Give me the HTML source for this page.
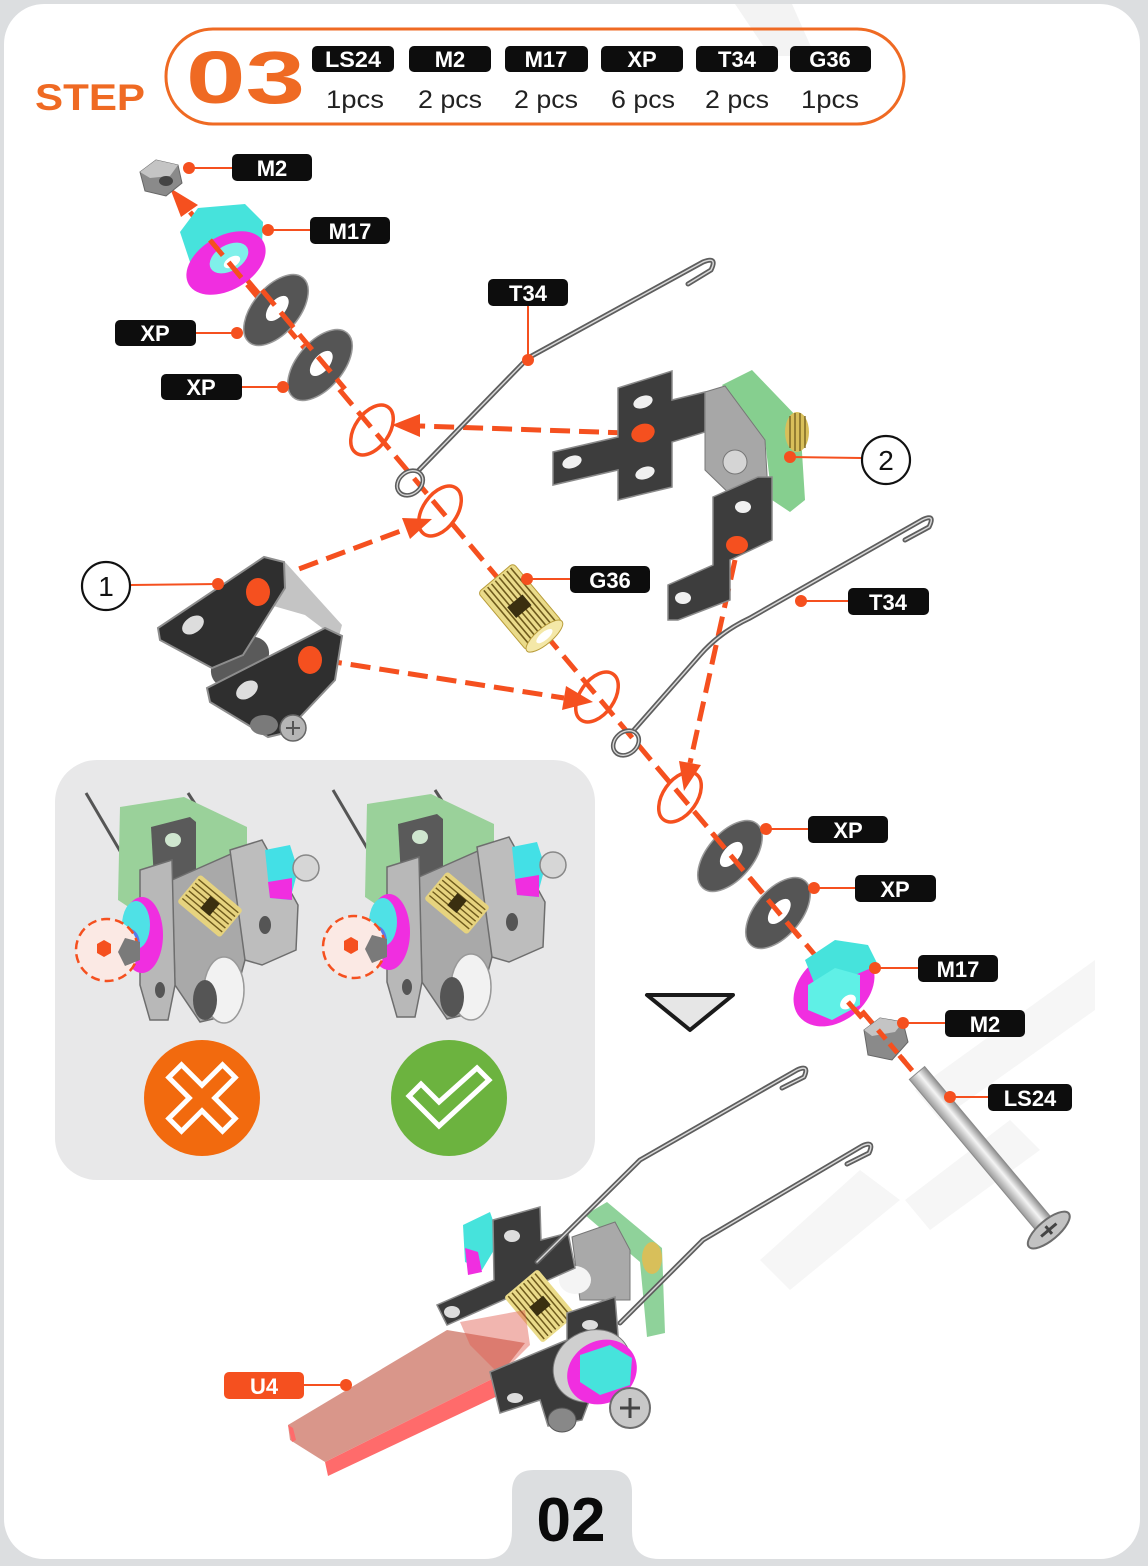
<!DOCTYPE html>
<html><head><meta charset="utf-8">
<style>
html,body{margin:0;padding:0;background:#dcdee0;}
svg{display:block;}
text{font-family:"Liberation Sans",Arial,sans-serif;}
</style></head>
<body>
<svg width="1148" height="1566" viewBox="0 0 1148 1566" xmlns="http://www.w3.org/2000/svg">
<defs>
<linearGradient id="steel" x1="0" y1="0" x2="0" y2="1">
<stop offset="0" stop-color="#8d8d8d"/><stop offset="0.45" stop-color="#f4f4f4"/><stop offset="1" stop-color="#9a9a9a"/>
</linearGradient>
<g id="washer">
<ellipse cx="0" cy="0" rx="42" ry="23" fill="#555" stroke="#9a9a9a" stroke-width="1.5"/>
<ellipse cx="2" cy="0" rx="15" ry="8" fill="#fff"/>
</g>
</defs>

<!-- background / card -->
<rect x="0" y="0" width="1148" height="1566" fill="#dcdee0"/>
<rect x="4" y="4" width="1136" height="1555" rx="40" fill="#ffffff"/>
<polygon points="735,4 792,4 815,56 770,56" fill="#f3f3f3"/>
<g fill="#f6f6f6">
<polygon points="1095,960 1095,1010 940,1120 915,1090"/>
<polygon points="1010,1120 1040,1150 930,1230 905,1200"/>
<polygon points="860,1170 900,1200 790,1290 760,1260"/>
</g>
<!-- page tab -->
<path d="M484 1559 Q512 1559 512 1531 L512 1492 Q512 1470 534 1470 L610 1470 Q632 1470 632 1492 L632 1531 Q632 1559 660 1559 Z" fill="#dcdee0"/>
<text x="571" y="1541" font-size="62" font-weight="bold" text-anchor="middle" fill="#0a0a0a">02</text>

<!-- header -->
<text x="35" y="110" font-size="37" font-weight="bold" fill="#ef6a23" textLength="110" lengthAdjust="spacingAndGlyphs">STEP</text>
<rect x="166" y="29" width="738" height="95" rx="47" fill="none" stroke="#ef6a23" stroke-width="3"/>
<text x="186" y="103" font-size="74" font-weight="bold" fill="#ef6a23" textLength="119" lengthAdjust="spacingAndGlyphs">03</text>
<g font-weight="bold" font-size="22" fill="#fff" text-anchor="middle">
<rect x="312" y="46" width="82" height="26" rx="5" fill="#0d0d0d"/><text x="353" y="67" textLength="56" lengthAdjust="spacingAndGlyphs">LS24</text>
<rect x="409" y="46" width="82" height="26" rx="5" fill="#0d0d0d"/><text x="450" y="67">M2</text>
<rect x="505" y="46" width="83" height="26" rx="5" fill="#0d0d0d"/><text x="546" y="67">M17</text>
<rect x="601" y="46" width="82" height="26" rx="5" fill="#0d0d0d"/><text x="642" y="67">XP</text>
<rect x="696" y="46" width="82" height="26" rx="5" fill="#0d0d0d"/><text x="737" y="67">T34</text>
<rect x="790" y="46" width="81" height="26" rx="5" fill="#0d0d0d"/><text x="830" y="67">G36</text>
</g>
<g font-size="25" fill="#222" text-anchor="middle">
<text x="355" y="108" textLength="58" lengthAdjust="spacingAndGlyphs">1pcs</text>
<text x="450" y="108" textLength="64" lengthAdjust="spacingAndGlyphs">2 pcs</text>
<text x="546" y="108" textLength="64" lengthAdjust="spacingAndGlyphs">2 pcs</text>
<text x="643" y="108" textLength="64" lengthAdjust="spacingAndGlyphs">6 pcs</text>
<text x="737" y="108" textLength="64" lengthAdjust="spacingAndGlyphs">2 pcs</text>
<text x="830" y="108" textLength="58" lengthAdjust="spacingAndGlyphs">1pcs</text>
</g>

<!-- gray tip panel -->
<rect x="55" y="760" width="540" height="420" rx="42" fill="#e8e8e9"/>

<!-- ===== main axis dashed ===== -->
<path d="M190 212 L915 1074" stroke="#f5501f" stroke-width="5" stroke-dasharray="20 9" fill="none"/>
<polygon points="170,188 198,205 181,217" fill="#f5501f"/>

<!-- top M2 nut -->
<polygon points="140,172 156,160 178,165 182,183 166,196 145,191" fill="#8a8a8a" stroke="#666" stroke-width="1"/>
<polygon points="140,172 156,160 178,165 170,176 150,178" fill="#c4c4c4"/>
<ellipse cx="166" cy="181" rx="7" ry="5" fill="#444"/>

<!-- top M17 -->
<polygon points="180,232 198,208 245,204 263,222 262,245 190,262" fill="#46e3dc"/>
<ellipse cx="226" cy="263" rx="43" ry="27" transform="rotate(-30 226 263)" fill="#f02ee0"/>
<ellipse cx="229" cy="258" rx="21" ry="13" transform="rotate(-30 229 258)" fill="#7ff0ea"/>
<ellipse cx="232" cy="262" rx="9" ry="5" transform="rotate(-30 232 262)" fill="#fff"/>
<line x1="210" y1="240" x2="260" y2="300" stroke="#f5501f" stroke-width="5" stroke-dasharray="20 9"/>

<!-- top washers -->
<use href="#washer" transform="translate(276,310) rotate(-50)"/>
<use href="#washer" transform="translate(320,365) rotate(-50)"/>
<line x1="262" y1="290" x2="345" y2="389" stroke="#f5501f" stroke-width="5" stroke-dasharray="20 9"/>

<!-- rings on axis -->
<g fill="none" stroke="#f5501f" stroke-width="3.5">
<ellipse cx="372" cy="430" rx="28" ry="17" transform="rotate(-55 372 430)"/>
<ellipse cx="440" cy="511" rx="28" ry="17" transform="rotate(-55 440 511)"/>
<ellipse cx="597" cy="697" rx="28" ry="17" transform="rotate(-55 597 697)"/>
<ellipse cx="680" cy="797" rx="28" ry="17" transform="rotate(-55 680 797)"/>
</g>

<!-- secondary dashed arrows -->
<g stroke="#f5501f" stroke-width="5" stroke-dasharray="20 9" fill="none">
<line x1="628" y1="433" x2="420" y2="426"/>
<line x1="272" y1="579" x2="406" y2="529"/>
<line x1="322" y1="660" x2="564" y2="698"/>
<line x1="735" y1="560" x2="690" y2="763"/>
</g>
<g fill="#f5501f">
<polygon points="392,425 420,414 420,437"/>
<polygon points="432,519 410,539 402,518"/>
<polygon points="593,702 562,710 566,686"/>
<polygon points="684,791 701,765 679,761"/>
</g>

<!-- top T34 wire -->
<g fill="none" stroke-linecap="round" stroke-linejoin="round">
<path d="M418 471 L528 358 L703 262 Q718 256 711 270 L688 284" stroke="#5e5e5e" stroke-width="5"/>
<path d="M418 471 L528 358 L703 262 Q718 256 711 270 L688 284" stroke="#d8d8d8" stroke-width="1.5"/>
<ellipse cx="410" cy="483" rx="14" ry="11" transform="rotate(-40 410 483)" stroke="#5e5e5e" stroke-width="4.5"/>
<ellipse cx="410" cy="483" rx="14" ry="11" transform="rotate(-40 410 483)" stroke="#d8d8d8" stroke-width="1.3"/>
</g>

<!-- G36 -->
<g transform="translate(520,607) rotate(50)">
<rect x="-38" y="-23" width="76" height="46" rx="4" fill="#eadb8a" stroke="#b89c3a" stroke-width="1"/>
<g stroke="#6f5b1c" stroke-width="1.6">
<line x1="-36" y1="-18" x2="36" y2="-18"/><line x1="-36" y1="-13" x2="36" y2="-13"/><line x1="-36" y1="-8" x2="36" y2="-8"/>
<line x1="-36" y1="-3" x2="36" y2="-3"/><line x1="-36" y1="2" x2="36" y2="2"/><line x1="-36" y1="7" x2="36" y2="7"/>
<line x1="-36" y1="12" x2="36" y2="12"/><line x1="-36" y1="17" x2="36" y2="17"/>
</g>
<rect x="-8" y="-10" width="14" height="20" fill="#3a2f10"/>
<ellipse cx="38" cy="0" rx="8" ry="23" fill="#f4e8a8" stroke="#b89c3a"/>
<ellipse cx="38" cy="0" rx="4" ry="10" fill="#fff"/>
</g>

<!-- bracket 2 -->
<polygon points="722,385 752,370 800,420 805,500 790,512 772,500 765,440" fill="#86cf8f"/>
<polygon points="705,392 725,386 765,440 768,492 738,502 705,470" fill="#a7a7a7" stroke="#777" stroke-width="1"/>
<ellipse cx="797" cy="432" rx="12" ry="20" fill="#d8bf5a"/>
<g stroke="#6f5b1c" stroke-width="1.3"><line x1="790" y1="416" x2="790" y2="448"/><line x1="795" y1="413" x2="795" y2="451"/><line x1="800" y1="413" x2="800" y2="451"/><line x1="805" y1="416" x2="805" y2="448"/></g>
<circle cx="735" cy="462" r="12" fill="#d5d5d5" stroke="#777"/>
<polygon points="618,388 672,371 672,400 705,392 705,432 672,442 672,487 618,500 618,470 553,485 553,452 618,437" fill="#3d3d3d" stroke="#8a8a8a" stroke-width="1.5"/>
<ellipse cx="643" cy="402" rx="10" ry="6" transform="rotate(-20 643 402)" fill="#f0f0f0"/>
<ellipse cx="572" cy="462" rx="10" ry="6" transform="rotate(-20 572 462)" fill="#f0f0f0"/>
<ellipse cx="645" cy="473" rx="10" ry="6" transform="rotate(-20 645 473)" fill="#f0f0f0"/>
<ellipse cx="643" cy="433" rx="12" ry="9" transform="rotate(-20 643 433)" fill="#f5501f"/>
<polygon points="713,497 758,477 772,477 772,540 730,560 730,600 678,620 668,620 668,585 713,565" fill="#3d3d3d" stroke="#8a8a8a" stroke-width="1.5"/>
<ellipse cx="743" cy="507" rx="8" ry="6" fill="#f0f0f0"/>
<ellipse cx="683" cy="598" rx="8" ry="6" fill="#f0f0f0"/>
<ellipse cx="737" cy="545" rx="11" ry="9" fill="#f5501f"/>

<!-- bracket 1 -->
<ellipse cx="240" cy="662" rx="32" ry="22" transform="rotate(-35 240 662)" fill="#5a5a5a"/>
<polygon points="262,575 285,562 342,625 338,640 305,615 270,605" fill="#c4c4c4"/>
<polygon points="158,628 264,557 284,562 285,588 243,655 212,668 160,640" fill="#2f2f2f" stroke="#8d8d8d" stroke-width="2"/>
<ellipse cx="193" cy="625" rx="12" ry="8" transform="rotate(-35 193 625)" fill="#ddd"/>
<ellipse cx="258" cy="592" rx="12" ry="14" fill="#f5501f"/>
<polygon points="207,688 325,628 342,636 335,680 285,733 268,737 210,702" fill="#2f2f2f" stroke="#8d8d8d" stroke-width="2"/>
<ellipse cx="247" cy="690" rx="12" ry="8" transform="rotate(-35 247 690)" fill="#ddd"/>
<ellipse cx="310" cy="660" rx="12" ry="14" fill="#f5501f"/>
<ellipse cx="264" cy="725" rx="14" ry="10" fill="#7a7a7a"/>
<circle cx="293" cy="728" r="13" fill="#b5b5b5" stroke="#666" stroke-width="1.5"/>
<path d="M286 728 H300 M293 721 V735" stroke="#555" stroke-width="2"/>

<!-- lower T34 wire -->
<g fill="none" stroke-linecap="round" stroke-linejoin="round">
<path d="M633 731 L700 655 Q720 632 750 618 L922 520 Q936 513 929 527 L905 540" stroke="#5e5e5e" stroke-width="5"/>
<path d="M633 731 L700 655 Q720 632 750 618 L922 520 Q936 513 929 527 L905 540" stroke="#d8d8d8" stroke-width="1.5"/>
<ellipse cx="626" cy="743" rx="14" ry="11" transform="rotate(-40 626 743)" stroke="#5e5e5e" stroke-width="4.5"/>
<ellipse cx="626" cy="743" rx="14" ry="11" transform="rotate(-40 626 743)" stroke="#d8d8d8" stroke-width="1.3"/>
</g>

<!-- lower washers -->
<use href="#washer" transform="translate(730,856) rotate(-50)"/>
<use href="#washer" transform="translate(778,913) rotate(-50)"/>
<line x1="712" y1="833" x2="805" y2="944" stroke="#f5501f" stroke-width="5" stroke-dasharray="20 9"/>

<!-- lower M17 -->
<ellipse cx="834" cy="988" rx="45" ry="33" transform="rotate(-40 834 988)" fill="#f02ee0"/>
<polygon points="805,960 835,940 868,945 878,965 855,975 815,985" fill="#46e3dc"/>
<polygon points="808,985 835,968 860,975 860,1005 832,1020 808,1010" fill="#5ff0e6"/>
<ellipse cx="848" cy="1002" rx="9" ry="6" transform="rotate(-40 848 1002)" fill="#fff"/>
<line x1="848" y1="1002" x2="862" y2="1018" stroke="#f5501f" stroke-width="5"/>

<!-- lower M2 nut -->
<polygon points="864,1030 880,1018 903,1022 908,1042 892,1060 868,1055" fill="#8a8a8a" stroke="#666"/>
<polygon points="864,1030 880,1018 903,1022 895,1032 872,1036" fill="#c4c4c4"/>
<line x1="878" y1="1030" x2="905" y2="1062" stroke="#f5501f" stroke-width="5" stroke-dasharray="12 6"/>

<!-- LS24 screw -->
<g transform="translate(917,1073) rotate(50)">
<rect x="0" y="-10" width="200" height="20" fill="url(#steel)" stroke="#8a8a8a" stroke-width="1"/>
<ellipse cx="205" cy="0" rx="10" ry="26" fill="#c2c2c2" stroke="#6d6d6d" stroke-width="2"/>
<path d="M205 -10 V10 M200 0 H210" stroke="#444" stroke-width="3"/>
</g>

<!-- downward triangle -->
<polygon points="647,995 733,995 690,1030" fill="#e6e6e6" stroke="#1a1a1a" stroke-width="4" stroke-linejoin="round"/>

<!-- ===== tip panel assemblies ===== -->
<g id="asm">
<line x1="86" y1="793" x2="140" y2="885" stroke="#555" stroke-width="3"/>
<line x1="188" y1="793" x2="240" y2="873" stroke="#555" stroke-width="3"/>
<polygon points="120,807 184,797 247,827 247,857 214,873 133,910 118,900" fill="#9ad19a"/>
<polygon points="151,827 190,817 196,822 196,880 155,897" fill="#5a5a5a"/>
<ellipse cx="173" cy="840" rx="8" ry="7" fill="#cfe6cf"/>
<polygon points="172,880 240,850 245,960 230,1015 200,1022 175,985" fill="#a9a9a9" stroke="#6e6e6e" stroke-width="1.5"/>
<polygon points="230,850 262,840 298,905 296,950 262,965 245,960" fill="#bdbdbd" stroke="#6e6e6e" stroke-width="1.5"/>
<polygon points="140,870 172,860 175,985 168,1020 150,1020 140,985" fill="#b8b8b8" stroke="#6e6e6e" stroke-width="1.5"/>
<ellipse cx="265" cy="925" rx="6" ry="9" fill="#555"/>
<ellipse cx="160" cy="990" rx="5" ry="8" fill="#555"/>
<g transform="translate(210,906) rotate(40)">
<rect x="-28" y="-18" width="56" height="36" rx="3" fill="#e6d37f"/>
<g stroke="#6f5b1c" stroke-width="1.4"><line x1="-26" y1="-13" x2="26" y2="-13"/><line x1="-26" y1="-8" x2="26" y2="-8"/><line x1="-26" y1="-3" x2="26" y2="-3"/><line x1="-26" y1="2" x2="26" y2="2"/><line x1="-26" y1="7" x2="26" y2="7"/><line x1="-26" y1="12" x2="26" y2="12"/></g>
<rect x="-6" y="-8" width="12" height="16" fill="#3a2f10"/>
</g>
<ellipse cx="142" cy="935" rx="21" ry="38" fill="#f02ee0"/>
<ellipse cx="136" cy="925" rx="14" ry="24" fill="#4fe1e6"/>
<ellipse cx="130" cy="945" rx="10" ry="16" fill="#5a7bea"/>
<polygon points="265,850 290,845 298,870 290,900 270,898" fill="#43e0e6"/>
<polygon points="268,882 292,878 292,900 270,898" fill="#f02ee0"/>
<circle cx="306" cy="868" r="13" fill="#d6d6d6" stroke="#888" stroke-width="1.5"/>
<ellipse cx="224" cy="990" rx="20" ry="33" fill="#f2f2f2" stroke="#999" stroke-width="1.5"/>
<ellipse cx="205" cy="1000" rx="12" ry="20" fill="#555"/>
<circle cx="107" cy="950" r="31" fill="#fbe9e4" stroke="#f5501f" stroke-width="2.5" stroke-dasharray="9 5"/>
<polygon points="125,938 140,942 140,960 125,966 118,952" fill="#7a7a7a"/>
<polygon points="97,944 104,940 111,944 111,953 104,957 97,953" fill="#f5501f"/>
</g>
<use href="#asm" transform="translate(247,-3)"/>

<!-- X / check -->
<circle cx="202" cy="1098" r="58" fill="#f26a0e"/>
<polygon transform="translate(202,1098) rotate(45)" points="-9,-38 9,-38 9,-9 38,-9 38,9 9,9 9,38 -9,38 -9,9 -38,9 -38,-9 -9,-9" fill="none" stroke="#fff" stroke-width="5"/>
<circle cx="449" cy="1098" r="58" fill="#6cb33f"/>
<polygon transform="translate(449,1098)" points="-40,-2 -28,-14 -10,4 28,-30 40,-18 -10,28" fill="none" stroke="#fff" stroke-width="5" stroke-linejoin="miter"/>

<!-- ===== bottom assembly ===== -->
<polygon points="463,1225 490,1212 500,1240 482,1270 465,1262" fill="#46e3dc"/>
<polygon points="465,1248 478,1252 482,1272 468,1275" fill="#f02ee0"/>
<polygon points="585,1215 607,1202 662,1248 665,1333 647,1337 640,1262" fill="#8fd29a"/>
<polygon points="572,1237 615,1222 630,1250 630,1300 580,1300" fill="#a9a9a9" stroke="#777"/>
<ellipse cx="652" cy="1258" rx="10" ry="16" fill="#d8bf5a"/>
<ellipse cx="575" cy="1280" rx="16" ry="14" fill="#f4f4f4"/>
<polygon points="493,1220 540,1207 541,1240 568,1233 575,1268 447,1325 437,1305 494,1280" fill="#3b3b3b" stroke="#8a8a8a" stroke-width="1.5"/>
<ellipse cx="512" cy="1236" rx="8" ry="6" fill="#ddd"/>
<ellipse cx="452" cy="1312" rx="8" ry="6" fill="#ddd"/>
<g transform="translate(540,1306) rotate(50)">
<rect x="-30" y="-22" width="60" height="44" rx="3" fill="#eadb8a"/>
<g stroke="#6f5b1c" stroke-width="1.5"><line x1="-28" y1="-17" x2="28" y2="-17"/><line x1="-28" y1="-12" x2="28" y2="-12"/><line x1="-28" y1="-7" x2="28" y2="-7"/><line x1="-28" y1="-2" x2="28" y2="-2"/><line x1="-28" y1="3" x2="28" y2="3"/><line x1="-28" y1="8" x2="28" y2="8"/><line x1="-28" y1="13" x2="28" y2="13"/><line x1="-28" y1="18" x2="28" y2="18"/></g>
<rect x="-6" y="-9" width="12" height="18" fill="#3a2f10"/>
</g>
<!-- U4 -->
<polygon points="288,1425 447,1330 525,1343 500,1375 325,1462 290,1440" fill="#d9968a"/>
<polygon points="325,1462 500,1375 506,1392 328,1476" fill="#ff6b6b"/>
<polygon points="288,1425 292,1442 296,1440 293,1428" fill="#ff6b6b"/>
<polygon points="460,1322 525,1310 530,1345 500,1375 470,1345" fill="#e05a4e" opacity="0.45"/>
<!-- wires -->
<g fill="none" stroke-linecap="round" stroke-linejoin="round">
<path d="M537 1262 L640 1160 L797 1070 Q810 1064 804 1077 L782 1088" stroke="#5e5e5e" stroke-width="5"/>
<path d="M537 1262 L640 1160 L797 1070 Q810 1064 804 1077 L782 1088" stroke="#d8d8d8" stroke-width="1.5"/>
<path d="M620 1323 L703 1240 L862 1146 Q875 1140 869 1153 L847 1164" stroke="#5e5e5e" stroke-width="5"/>
<path d="M620 1323 L703 1240 L862 1146 Q875 1140 869 1153 L847 1164" stroke="#d8d8d8" stroke-width="1.5"/>
</g>
<polygon points="490,1372 567,1340 567,1313 615,1297 620,1360 600,1372 582,1420 548,1426 540,1400 500,1413" fill="#3b3b3b" stroke="#8a8a8a" stroke-width="1.5"/>
<ellipse cx="590" cy="1325" rx="8" ry="5" fill="#ddd"/>
<ellipse cx="515" cy="1398" rx="8" ry="5" fill="#ddd"/>
<ellipse cx="592" cy="1366" rx="40" ry="35" transform="rotate(-30 592 1366)" fill="#cfcfcf" stroke="#777"/>
<ellipse cx="602" cy="1372" rx="36" ry="31" transform="rotate(-30 602 1372)" fill="#f02ee0"/>
<polygon points="580,1355 610,1345 632,1358 630,1385 600,1395 580,1382" fill="#46e3dc"/>
<ellipse cx="562" cy="1420" rx="14" ry="12" fill="#888" stroke="#555"/>
<circle cx="630" cy="1408" r="20" fill="#c8c8c8" stroke="#6d6d6d" stroke-width="2"/>
<path d="M620 1408 H640 M630 1398 V1418" stroke="#444" stroke-width="3"/>

<!-- ===== callouts ===== -->
<g stroke="#f5501f" stroke-width="2" fill="none">
<line x1="189" y1="168" x2="232" y2="168"/>
<line x1="268" y1="230" x2="310" y2="230"/>
<line x1="237" y1="333" x2="196" y2="333"/>
<line x1="283" y1="387" x2="242" y2="387"/>
<line x1="528" y1="305" x2="528" y2="360"/>
<line x1="790" y1="457" x2="861" y2="458"/>
<line x1="131" y1="585" x2="218" y2="584"/>
<line x1="527" y1="579" x2="570" y2="579"/>
<line x1="801" y1="601" x2="848" y2="601"/>
<line x1="766" y1="829" x2="808" y2="829"/>
<line x1="814" y1="888" x2="855" y2="888"/>
<line x1="875" y1="968" x2="918" y2="968"/>
<line x1="903" y1="1023" x2="945" y2="1023"/>
<line x1="950" y1="1097" x2="988" y2="1097"/>
<line x1="304" y1="1385" x2="346" y2="1385"/>
</g>
<g fill="#f5501f">
<circle cx="189" cy="168" r="6"/><circle cx="268" cy="230" r="6"/><circle cx="237" cy="333" r="6"/><circle cx="283" cy="387" r="6"/>
<circle cx="528" cy="360" r="6"/><circle cx="790" cy="457" r="6"/><circle cx="218" cy="584" r="6"/><circle cx="527" cy="579" r="6"/>
<circle cx="801" cy="601" r="6"/><circle cx="766" cy="829" r="6"/><circle cx="814" cy="888" r="6"/><circle cx="875" cy="968" r="6"/>
<circle cx="903" cy="1023" r="6"/><circle cx="950" cy="1097" r="6"/><circle cx="346" cy="1385" r="6"/>
</g>
<g fill="#0d0d0d">
<rect x="232" y="154" width="80" height="27" rx="5"/>
<rect x="310" y="217" width="80" height="27" rx="5"/>
<rect x="115" y="320" width="81" height="26" rx="5"/>
<rect x="161" y="374" width="81" height="26" rx="5"/>
<rect x="488" y="279" width="80" height="27" rx="5"/>
<rect x="570" y="566" width="80" height="27" rx="5"/>
<rect x="848" y="588" width="81" height="27" rx="5"/>
<rect x="808" y="816" width="80" height="27" rx="5"/>
<rect x="855" y="875" width="81" height="27" rx="5"/>
<rect x="918" y="955" width="80" height="27" rx="5"/>
<rect x="945" y="1010" width="80" height="27" rx="5"/>
<rect x="988" y="1084" width="84" height="27" rx="5"/>
</g>
<rect x="224" y="1372" width="80" height="27" rx="5" fill="#f5501f"/>
<g font-size="22" font-weight="bold" fill="#fff" text-anchor="middle">
<text x="272" y="176">M2</text>
<text x="350" y="239">M17</text>
<text x="155" y="341">XP</text>
<text x="201" y="395">XP</text>
<text x="528" y="301">T34</text>
<text x="610" y="588">G36</text>
<text x="888" y="610">T34</text>
<text x="848" y="838">XP</text>
<text x="895" y="897">XP</text>
<text x="958" y="977">M17</text>
<text x="985" y="1032">M2</text>
<text x="1030" y="1106">LS24</text>
<text x="264" y="1394">U4</text>
</g>
<circle cx="886" cy="460" r="24" fill="#fff" stroke="#111" stroke-width="2.2"/>
<text x="886" y="470" font-size="28" text-anchor="middle" fill="#111">2</text>
<circle cx="106" cy="586" r="24" fill="#fff" stroke="#111" stroke-width="2.2"/>
<text x="106" y="596" font-size="28" text-anchor="middle" fill="#111">1</text>
</svg>
</body></html>
